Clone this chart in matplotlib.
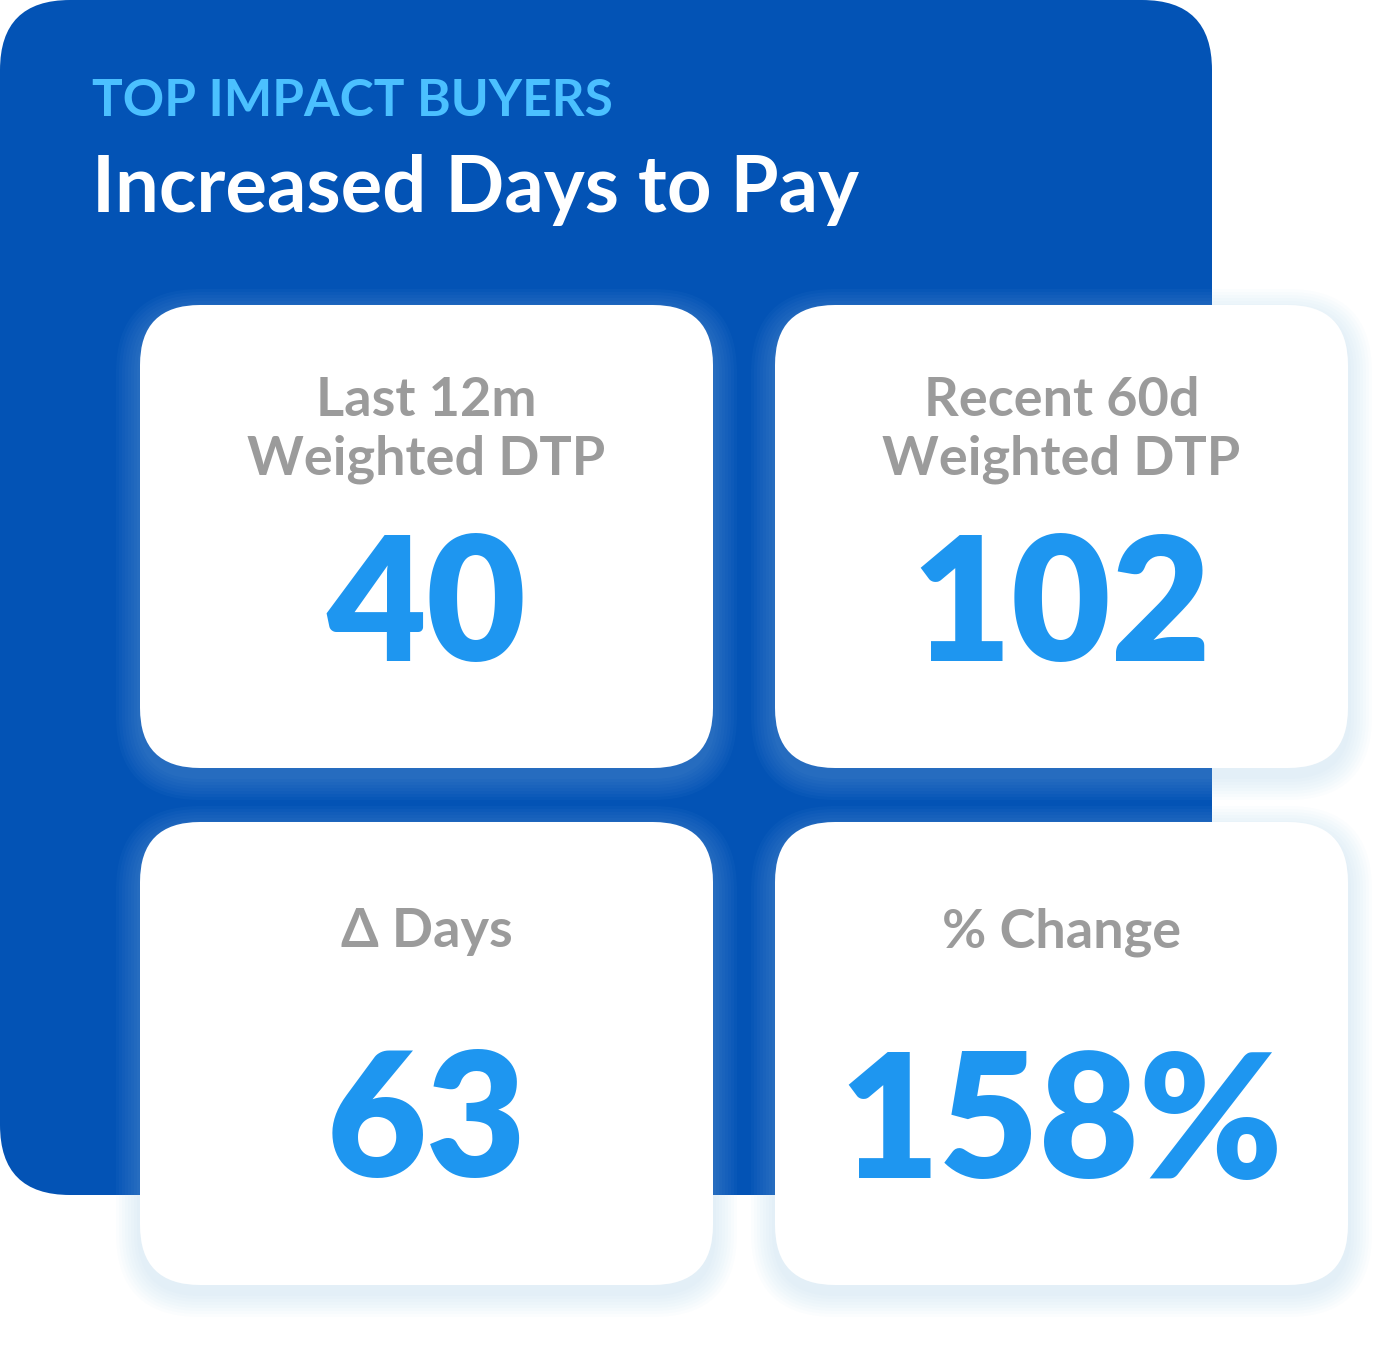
import matplotlib.pyplot as plt
from matplotlib.patches import FancyBboxPatch

# card data
card_labels = ["Last 12m\nWeighted DTP", "Recent 60d\nWeighted DTP", "Δ Days", "% Change"]
card_values = ["40", "102", "63", "158%"]
kicker = "TOP IMPACT BUYERS"
title = "Increased Days to Pay"

W, H = 1400, 1346
fig = plt.figure(figsize=(W / 100, H / 100), dpi=100)
ax = fig.add_axes([0, 0, 1, 1])
ax.set_xlim(0, W)
ax.set_ylim(H, 0)
ax.axis('off')

FONT = ['Lato', 'DejaVu Sans']

def rbox(x0, y0, x1, y1, r, **kw):
    p = FancyBboxPatch((x0 + r, y0 + r), x1 - x0 - 2 * r, y1 - y0 - 2 * r,
                       boxstyle=f"round,pad={r}", **kw)
    ax.add_patch(p)

# blue panel
rbox(0, 0, 1212, 1195, 70, facecolor='#0353B5', edgecolor='none')

ax.text(92, 102, kicker, color='#4BC0FF', fontsize=37, fontweight='bold',
        family=FONT, va='center', ha='left')
ax.text(92, 190, title, color='white', fontsize=56, fontweight='bold',
        family=FONT, va='center', ha='left')

cards = [(140, 305), (775, 305), (140, 822), (775, 822)]
cw, ch = 573, 463
for (x, y), lab, val in zip(cards, card_labels, card_values):
    # soft shadow
    for k in range(8, 0, -1):
        g = k * 3
        rbox(x - g, y - g + 8, x + cw + g, y + ch + g + 8, 60 + g,
             facecolor='#9CC8F0', edgecolor='none', alpha=0.035)
    rbox(x, y, x + cw, y + ch, 60, facecolor='white', edgecolor='none')
    cx = x + cw / 2
    if '\n' in lab:
        ax.text(cx, y + 125, lab, color='#9B9B9B', fontsize=39, fontweight='bold',
                family=FONT, ha='center', va='center', linespacing=1.25)
    else:
        ax.text(cx, y + 110, lab, color='#9B9B9B', fontsize=39, fontweight='bold',
                family=FONT, ha='center', va='center')
    ax.text(cx, y + 305, val, color='#1E96F0', fontsize=124, fontweight='heavy',
            family=FONT, ha='center', va='center')

fig.savefig('out.png', dpi=100, facecolor='white')
